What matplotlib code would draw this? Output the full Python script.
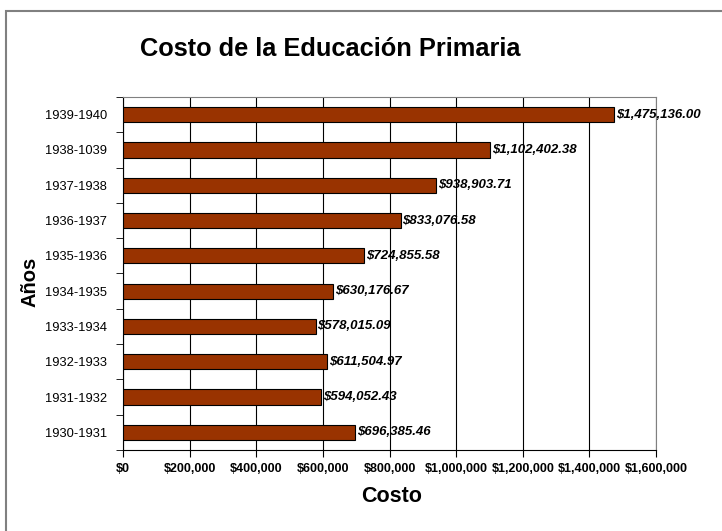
import matplotlib.pyplot as plt
from matplotlib.patches import Rectangle
from matplotlib.ticker import FuncFormatter, FixedLocator

plt.rcParams['font.family'] = ['Liberation Sans', 'DejaVu Sans']

years = ['1930-1931', '1931-1932', '1932-1933', '1933-1934', '1934-1935',
         '1935-1936', '1936-1937', '1937-1938', '1938-1039', '1939-1940']
costs = [696385.46, 594052.43, 611504.97, 578015.09, 630176.67,
         724855.58, 833076.58, 938903.71, 1102402.38, 1475136.00]
xticks = [0, 200000, 400000, 600000, 800000, 1000000, 1200000, 1400000, 1600000]

fig = plt.figure(figsize=(7.22, 5.31), dpi=100)
# outer frame of the chart object
fig.patches.append(Rectangle((6 / 722, -0.05), 1.2, 1 - 10.5 / 531 + 0.05,
                             transform=fig.transFigure, fill=False,
                             edgecolor='#808080', linewidth=1.5))

ax = fig.add_axes([123 / 722, 1 - 450 / 531, (656 - 123) / 722, (450 - 97) / 531])

pos = list(range(len(years)))
ax.barh(pos, costs, height=0.43, color='#993300', edgecolor='black', linewidth=0.8, zorder=3)

for p, c in zip(pos, costs):
    ax.text(c + 6000, p, '${:,.2f}'.format(c), va='center', ha='left',
            fontsize=9.5, fontweight='bold', fontstyle='italic', zorder=4)

ax.set_xlim(0, 1600000)
ax.set_ylim(-0.5, len(years) - 0.5)
ax.set_xticks(xticks)
ax.xaxis.set_major_formatter(FuncFormatter(lambda v, _: '${:,.0f}'.format(v)))
for lb in ax.get_xticklabels():
    lb.set_fontweight('bold')
ax.tick_params(axis='x', labelsize=9, length=5, direction='out', pad=4)

ax.set_yticks(pos)
ax.set_yticklabels(years, fontsize=9.3)
ax.yaxis.set_minor_locator(FixedLocator([p - 0.5 for p in pos] + [len(years) - 0.5]))
ax.tick_params(axis='y', which='major', length=0, pad=11.5)
ax.tick_params(axis='y', which='minor', length=5, direction='out')

ax.grid(axis='x', color='black', linewidth=0.8, zorder=0)
ax.spines['top'].set_color('#808080')
ax.spines['right'].set_color('#808080')
ax.spines['left'].set_color('black')
ax.spines['bottom'].set_color('black')

fig.text(330 / 722, 1 - 49 / 531, 'Costo de la Educación Primaria', ha='center', va='center',
         fontsize=18.3, fontweight='bold')
fig.text(392 / 722, 1 - 497 / 531, 'Costo', ha='center', va='center',
         fontsize=15.5, fontweight='bold')
fig.text(30 / 722, 1 - 282 / 531, 'Años', ha='center', va='center', rotation=90,
         fontsize=14.5, fontweight='bold')

fig.savefig('out.png', dpi=100)
